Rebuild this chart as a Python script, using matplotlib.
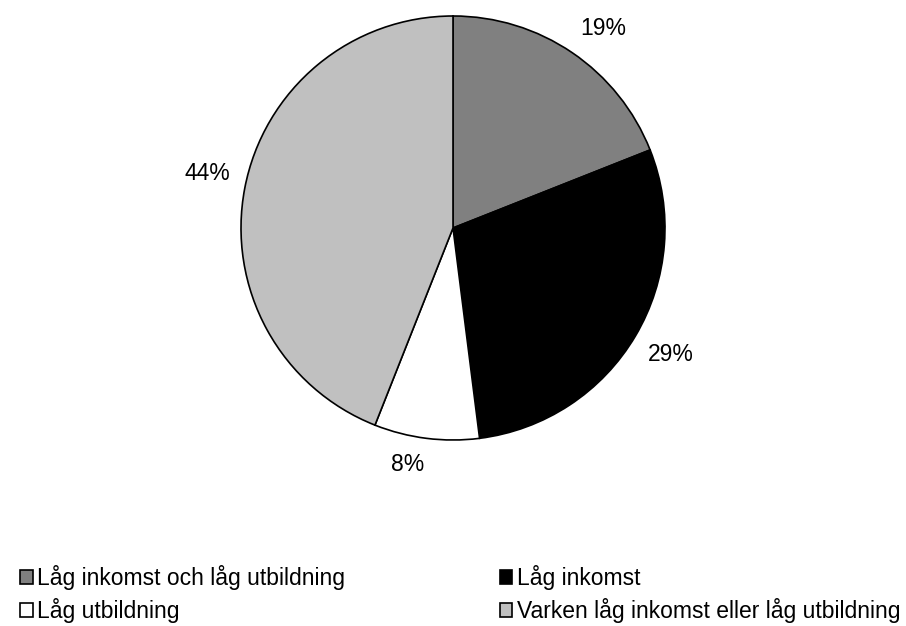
import numpy as np
import matplotlib.pyplot as plt
from matplotlib.patches import Patch

plt.rcParams['font.family'] = ['Liberation Sans', 'DejaVu Sans']

# Data
labels = ['Låg inkomst och låg utbildning', 'Låg inkomst', 'Låg utbildning',
          'Varken låg inkomst eller låg utbildning']
shares = [19, 29, 8, 44]
colors = ['#808080', '#000000', '#ffffff', '#c0c0c0']

W, H = 906, 626
fig = plt.figure(figsize=(W / 100, H / 100), dpi=100)

# pie axes: centre (453, 228), radius ~212 px
ax = fig.add_axes([241 / W, (H - 440) / H, 424 / W, 424 / H])
wedges, texts, autotexts = ax.pie(
    shares, colors=colors, startangle=90, counterclock=False,
    autopct='%.0f%%',
    wedgeprops=dict(edgecolor='black', linewidth=1.2),
    textprops=dict(fontsize=16.5, color='black'))
ax.set_xlim(-1, 1)
ax.set_ylim(-1, 1)
ax.set_aspect('equal')

# put percentage labels outside, nearest corner of the label at a fixed radius
for w, t in zip(wedges, autotexts):
    a = np.deg2rad((w.theta1 + w.theta2) / 2)
    c, s = np.cos(a), np.sin(a)
    t.set_position((1.07 * c, 1.07 * s))
    t.set_ha('left' if c > 0 else 'right')
    t.set_va('bottom' if s > 0 else 'top')

# legend, row-major order across two columns
order = [0, 2, 1, 3]
handles = [Patch(facecolor=colors[i], edgecolor='black', linewidth=1.2) for i in order]
fig.legend(handles, [labels[i] for i in order], ncol=2,
           loc='upper left', bbox_to_anchor=(20 / W, 1 - 565 / H),
           frameon=False, fontsize=16.5, handlelength=0.55, handleheight=0.55,
           handletextpad=0.2, columnspacing=6.75, labelspacing=0.35,
           borderaxespad=0, borderpad=0)

fig.savefig('out.png', dpi=100)
